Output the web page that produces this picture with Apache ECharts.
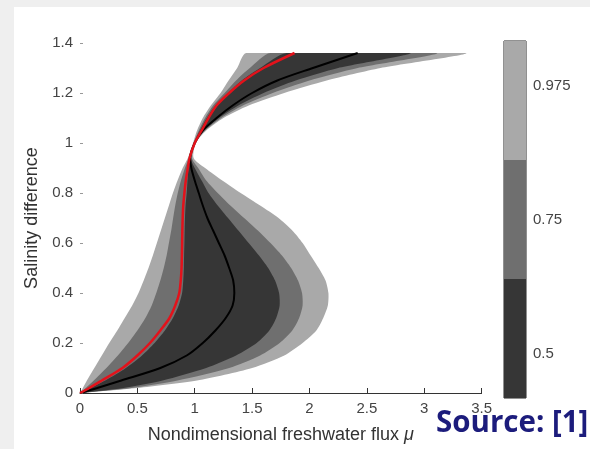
<!DOCTYPE html>
<html><head><meta charset="utf-8">
<script src="https://cdn.jsdelivr.net/npm/echarts@6/dist/echarts.min.js"></script>
<style>html,body{margin:0;padding:0;background:#efefef}#c{width:590px;height:449px}</style>
</head><body><div id="c"></div><script>
// Salinity difference levels (y) at which the curves are sampled
const ys = [0, 0.02, 0.05, 0.1, 0.15, 0.2, 0.25, 0.3, 0.35, 0.4, 0.45, 0.5, 0.55, 0.6, 0.65, 0.7, 0.75, 0.8, 0.85, 0.9, 0.94, 1.0, 1.05, 1.1, 1.15, 1.2, 1.25, 1.3, 1.36];
// freshwater flux (x) of band edges at each level
const left975  = [0, .025, .06, .125, .19, .255, .325, .39, .455, .51, .555, .597, .635, .67, .705, .74, .775, .81, .85, .895, .94, .985, 1.02, 1.07, 1.14, 1.225, 1.295, 1.37, 1.45];
const right975 = [0, .5, 1.02, 1.5, 1.78, 1.94, 2.06, 2.12, 2.16, 2.165, 2.14, 2.08, 2.01, 1.94, 1.85, 1.73, 1.57, 1.40, 1.24, 1.09, .99, 1.01, 1.10, 1.25, 1.47, 1.78, 2.15, 2.62, 3.36];
const left75   = [0, .05, .12, .23, .33, .42, .50, .57, .625, .665, .70, .73, .755, .775, .795, .812, .83, .852, .88, .915, .948, .99, 1.035, 1.09, 1.16, 1.26, 1.36, 1.48, 1.66];
const right75  = [0, .45, .85, 1.3, 1.57, 1.74, 1.85, 1.91, 1.94, 1.935, 1.90, 1.84, 1.76, 1.66, 1.55, 1.43, 1.31, 1.20, 1.10, 1.03, .975, 1.005, 1.09, 1.23, 1.42, 1.68, 2.0, 2.42, 3.11];
const left50   = [0, .09, .22, .40, .54, .65, .74, .81, .86, .89, .90, .905, .907, .91, .912, .915, .92, .93, .937, .945, .955, .995, 1.045, 1.105, 1.18, 1.29, 1.41, 1.57, 1.80];
const right50  = [0, .38, .72, 1.1, 1.36, 1.54, 1.65, 1.71, 1.74, 1.735, 1.70, 1.64, 1.56, 1.47, 1.38, 1.29, 1.20, 1.12, 1.06, 1.0, .965, 1.0, 1.08, 1.21, 1.38, 1.6, 1.88, 2.25, 2.88];
const medianX  = [0, .15, .36, .70, .93, 1.07, 1.18, 1.27, 1.33, 1.345, 1.335, 1.30, 1.26, 1.21, 1.16, 1.11, 1.07, 1.035, 1.0, .97, .96, 1.0, 1.07, 1.19, 1.33, 1.5, 1.72, 2.03, 2.42];
const redX     = [0, .08, .19, .37, .50, .61, .70, .78, .83, .865, .878, .885, .888, .89, .892, .895, .90, .91, .922, .94, .955, 1.0, 1.06, 1.12, 1.19, 1.30, 1.43, 1.6, 1.87];
// colorbar
const cbLabels = ['0.5', '0.75', '0.975'];
const cbLabelPos = [0.37, 1.5, 2.62];
const cbColors = ['#363636', '#6f6f6f', '#a9a9a9'];
const cbBands = [1, 1, 1];

const FONT = '"Liberation Sans", Arial, Helvetica, sans-serif';
const bands = [
  {left: left975, right: right975, color: cbColors[2]},
  {left: left75, right: right75, color: cbColors[1]},
  {left: left50, right: right50, color: cbColors[0]}
];

const chart = echarts.init(document.getElementById('c'), null, {renderer: 'canvas'});
const option = {
  animation: false,
  backgroundColor: '#efefef',
  graphic: [
    {type: 'rect', shape: {x: 14, y: 7, width: 576, height: 442}, style: {fill: '#ffffff'}, z: -10, silent: true},
    {type: 'text', x: 436, y: 424, z: 100, silent: true,
     style: {text: 'Source: [1]', font: 'bold 29.5px "Open Sans", sans-serif', fill: '#1c1c7c', verticalAlign: 'middle', textVerticalAlign: 'middle'}}
  ],
  grid: [
    {left: 80, right: 108.4, top: 43, bottom: 51},
    {left: 504, right: 64, top: 41, bottom: 51, show: true, borderColor: '#222', borderWidth: 1, backgroundColor: 'transparent'}
  ],
  xAxis: [
    {gridIndex: 0, type: 'value', min: 0, max: 3.5, interval: 0.5,
     name: 'Nondimensional freshwater flux {i|μ}', nameLocation: 'middle', nameGap: 33,
     nameTextStyle: {fontSize: 18, color: '#333', fontFamily: FONT, rich: {i: {fontStyle: 'italic', fontSize: 18, color: '#333', fontFamily: FONT}}},
     axisLine: {show: true, onZero: false, lineStyle: {color: '#333', width: 1}},
     axisTick: {show: true, inside: true, length: 5, lineStyle: {color: '#333'}},
     axisLabel: {fontSize: 15, color: '#444', margin: 8, fontFamily: FONT},
     splitLine: {show: false}},
    {gridIndex: 1, type: 'category', data: ['cb'], show: false}
  ],
  yAxis: [
    {gridIndex: 0, type: 'value', min: 0, max: 1.4, interval: 0.2,
     name: 'Salinity difference', nameLocation: 'middle', nameGap: 33, nameRotate: 90,
     nameTextStyle: {fontSize: 18, color: '#333', fontFamily: FONT},
     axisLine: {show: false},
     axisTick: {show: true, inside: true, length: 3, lineStyle: {color: '#999'}},
     axisLabel: {fontSize: 15, color: '#444', margin: 7, fontFamily: FONT},
     splitLine: {show: false}},
    {gridIndex: 1, type: 'value', min: 0, max: 3, position: 'right',
     axisLine: {show: false}, splitLine: {show: false},
     axisTick: {show: true, inside: true, length: 3, customValues: [1.5], lineStyle: {color: '#222'}},
     axisLabel: {customValues: cbLabelPos, fontSize: 15, color: '#444', margin: 7, fontFamily: FONT,
       formatter: v => { const i = cbLabelPos.indexOf(v); return i >= 0 ? cbLabels[i] : ''; }}}
  ],
  series: [
    {type: 'custom', xAxisIndex: 0, yAxisIndex: 0, coordinateSystem: 'cartesian2d', silent: true,
     data: bands.map((b, i) => [i, 0]),
     renderItem: (params, api) => {
       const b = bands[params.dataIndex];
       const pts = [];
       for (let i = 0; i < ys.length; i++) pts.push(api.coord([b.left[i], ys[i]]));
       for (let i = ys.length - 1; i >= 0; i--) pts.push(api.coord([b.right[i], ys[i]]));
       const top = api.coord([0, ys[ys.length - 1]])[1];
       const bottom = api.coord([0, 0]);
       return {type: 'polygon',
               shape: {points: pts, smooth: 0.25, smoothConstraint: [[bottom[0], top], [2000, bottom[1]]]},
               style: {fill: b.color, stroke: null}};
     }, z: 2},
    {type: 'line', xAxisIndex: 0, yAxisIndex: 0, showSymbol: false, smooth: 0.3, silent: true,
     data: ys.map((y, i) => [medianX[i], y]), lineStyle: {color: '#000', width: 2}, z: 3},
    {type: 'line', xAxisIndex: 0, yAxisIndex: 0, showSymbol: false, smooth: 0.3, silent: true,
     data: ys.map((y, i) => [redX[i], y]), lineStyle: {color: '#e3121b', width: 2.5}, z: 4},
    ...cbBands.map((v, i) => ({type: 'bar', xAxisIndex: 1, yAxisIndex: 1, stack: 'cb', barWidth: '100%', silent: true,
      data: [v], itemStyle: {color: cbColors[i]}}))
  ]
};
chart.setOption(option);
</script></body></html>
